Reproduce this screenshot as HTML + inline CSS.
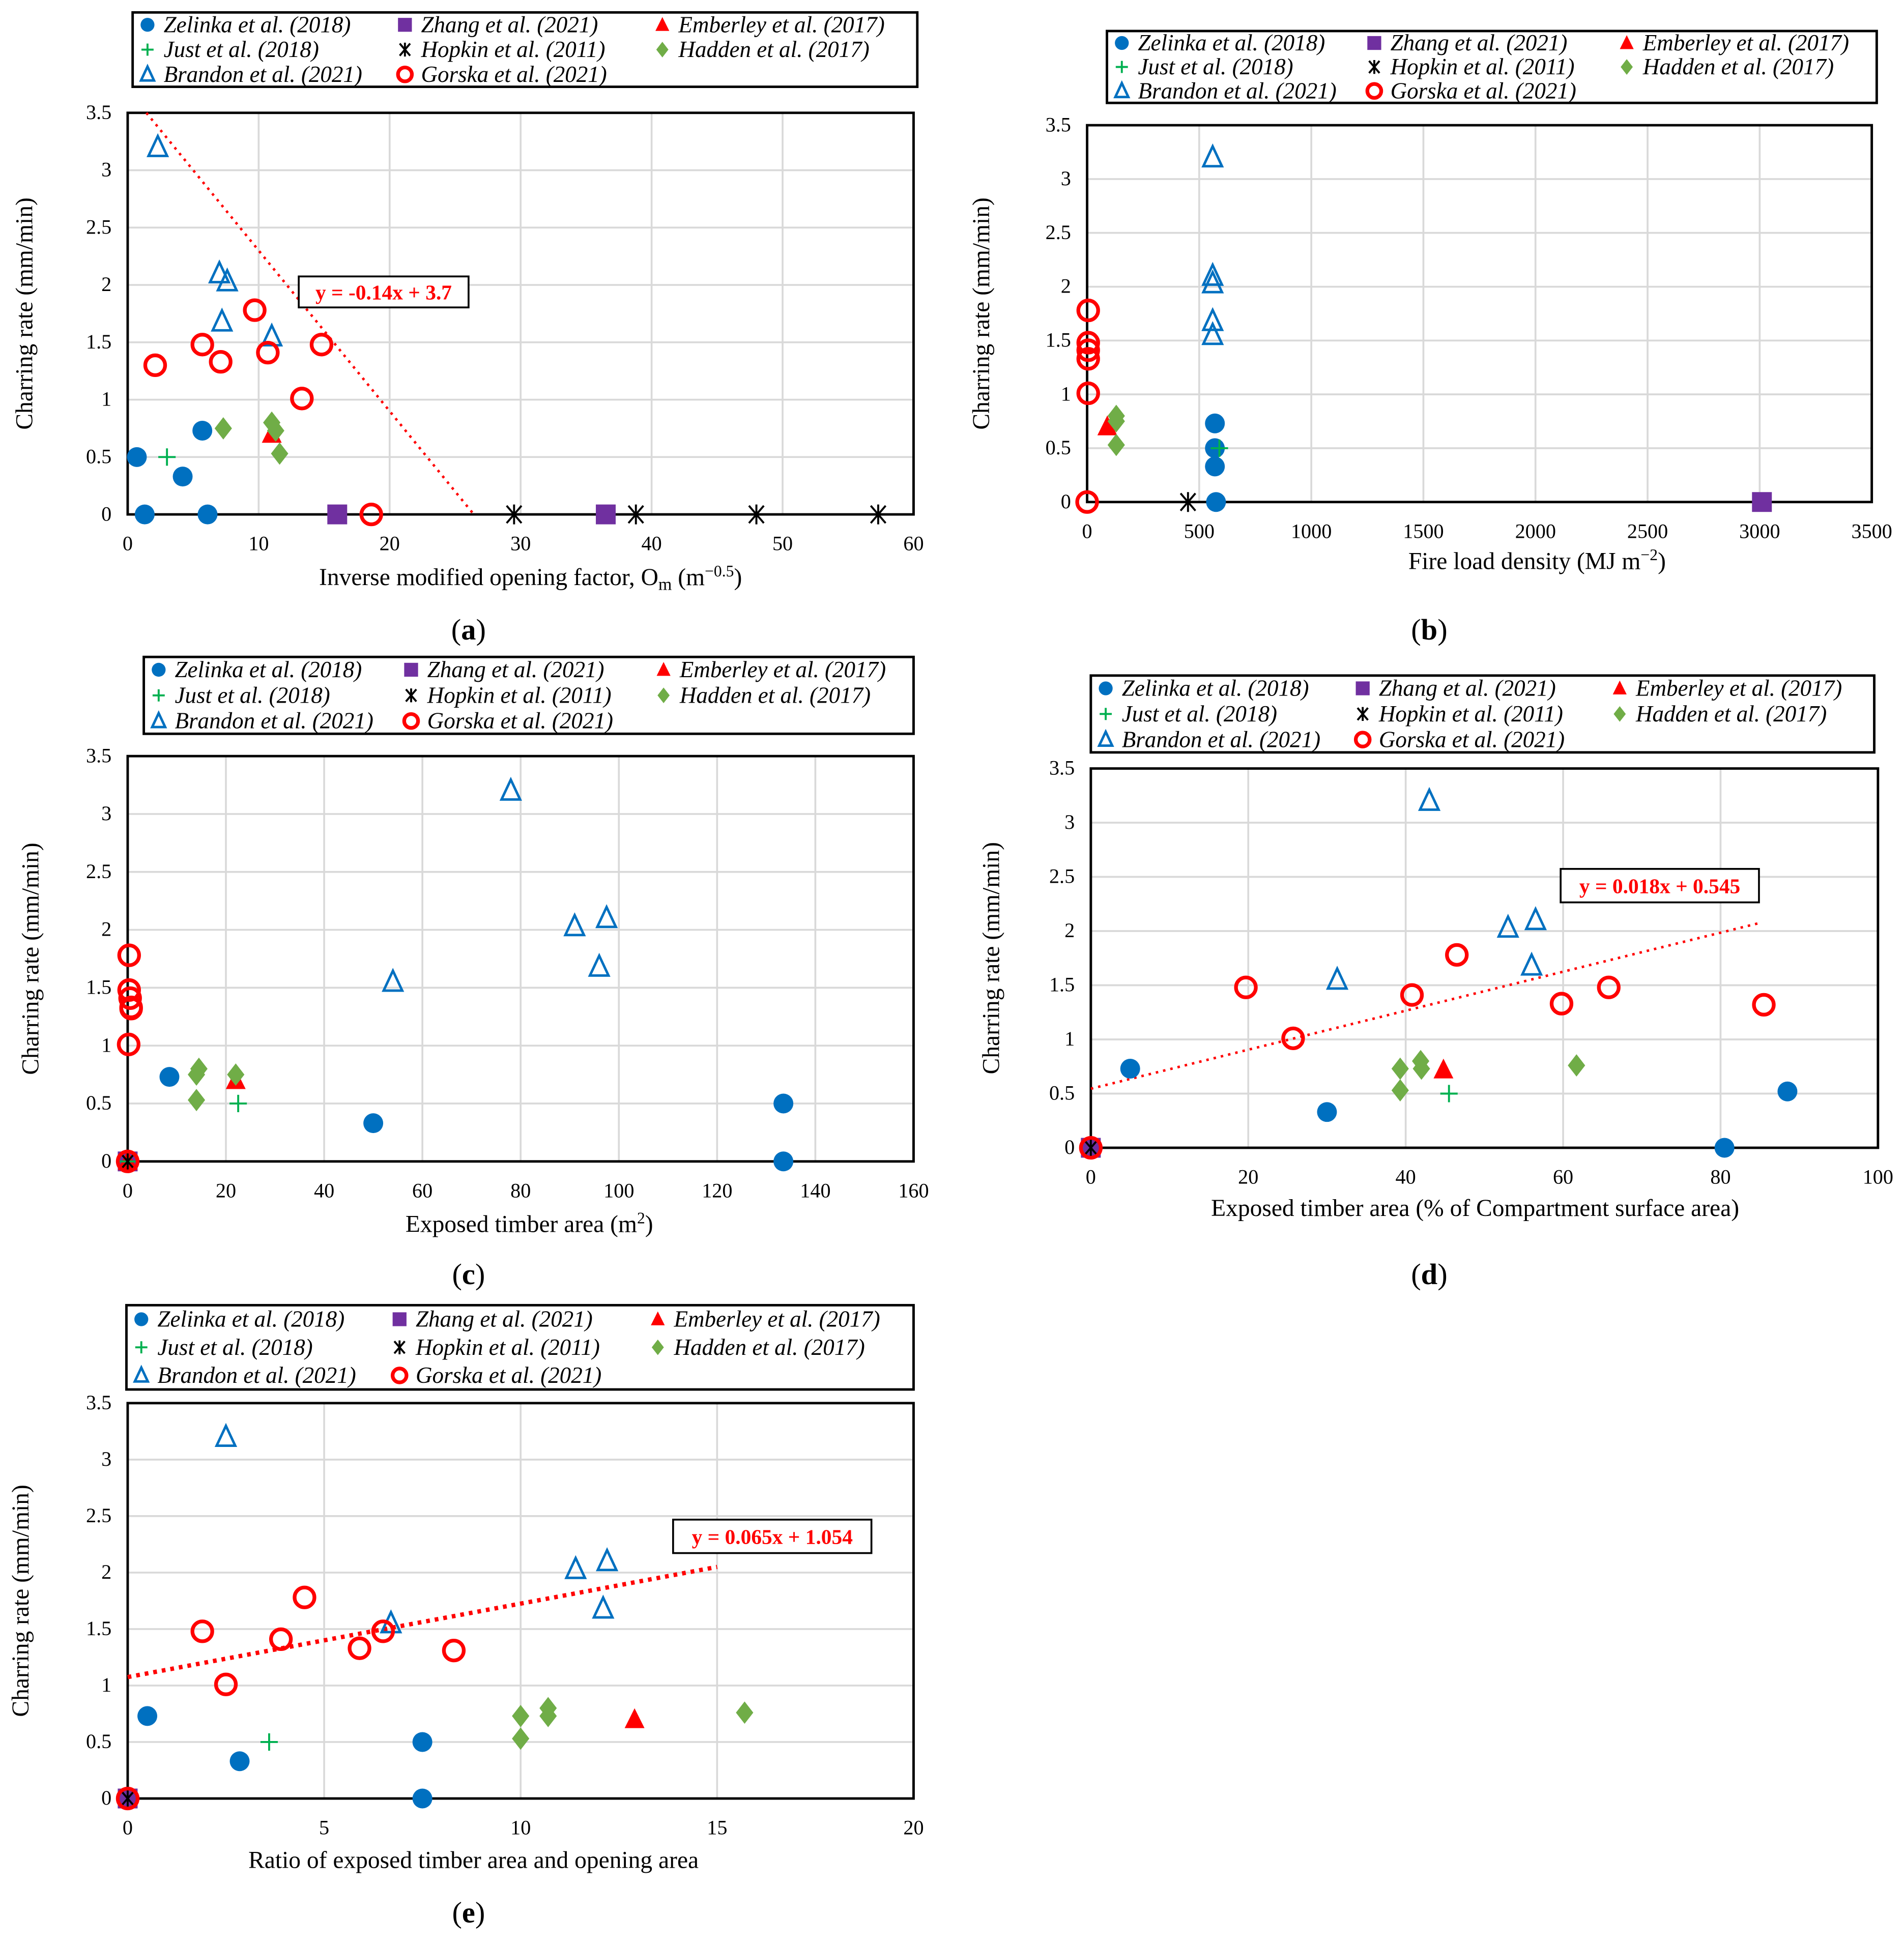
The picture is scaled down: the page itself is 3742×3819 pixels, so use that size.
<!DOCTYPE html>
<html><head><meta charset="utf-8">
<style>
html,body{margin:0;padding:0;background:#fff;}
svg, svg text{font-family:"Liberation Serif","Times New Roman",Times,"DejaVu Serif",serif;}
</style></head>
<body>
<svg id="fig" width="3742" height="3814" viewBox="0 0 1536 1565.5" xmlns="http://www.w3.org/2000/svg"></svg>
<script>
// ---- Data ----
const seriesNames = ["Zelinka et al. (2018)","Zhang et al. (2021)","Emberley et al. (2017)","Just et al. (2018)","Hopkin et al. (2011)","Hadden et al. (2017)","Brandon et al. (2021)","Gorska et al. (2021)"];
const yTicks = [0,0.5,1,1.5,2,2.5,3,3.5];

// panel a
const aX = [0,10,20,30,40,50,60];
const aZelinka = [[0.7,0.5],[1.3,0],[4.2,0.33],[5.7,0.73],[6.1,0]];
const aZhang = [[16,0],[36.5,0]];
const aEmberley = [[11,0.7]];
const aJust = [[3,0.5]];
const aHopkin = [[29.5,0],[38.8,0],[48,0],[57.3,0]];
const aHadden = [[7.3,0.75],[11,0.8],[11.3,0.73],[11.6,0.53]];
const aBrandon = [[2.3,3.2],[7,2.1],[7.6,2.03],[7.2,1.68],[11,1.55]];
const aGorska = [[2.1,1.3],[5.7,1.48],[7.1,1.33],[9.7,1.78],[10.7,1.41],[13.3,1.01],[14.8,1.48],[18.6,0]];
const aTrend = [-0.14,3.7,1.43,26.4];

// panel b
const bX = [0,500,1000,1500,2000,2500,3000,3500];
const bZelinka = [[570,0.73],[570,0.5],[570,0.33],[575,0]];
const bZhang = [[3010,0]];
const bEmberley = [[90,0.7]];
const bJust = [[590,0.5]];
const bHopkin = [[450,0]];
const bHadden = [[130,0.8],[130,0.75],[130,0.53]];
const bBrandon = [[560,3.2],[560,2.1],[560,2.03],[560,1.68],[560,1.55]];
const bGorska = [[5,1.78],[5,1.48],[5,1.41],[5,1.33],[5,1.01],[0,0]];

// panel c
const cX = [0,20,40,60,80,100,120,140,160];
const cZelinka = [[8.5,0.73],[50,0.33],[133.5,0.5],[133.5,0],[0,0]];
const cZhang = [[0,0]];
const cEmberley = [[22,0.7],[0,0]];
const cJust = [[22.5,0.5],[0,0]];
const cHopkin = [[0,0]];
const cHadden = [[14.5,0.8],[14,0.75],[14,0.53],[22,0.75]];
const cBrandon = [[78,3.2],[91,2.03],[97.5,2.1],[96,1.68],[54,1.55]];
const cGorska = [[0.3,1.78],[0.3,1.48],[0.5,1.41],[0.7,1.33],[0.7,1.32],[0.2,1.01],[0,0]];

// panel d
const dX = [0,20,40,60,80,100];
const dZelinka = [[5,0.73],[30,0.33],[80.5,0],[88.5,0.52],[0,0]];
const dZhang = [[0,0]];
const dEmberley = [[44.8,0.72]];
const dJust = [[45.5,0.5]];
const dHopkin = [[0,0]];
const dHadden = [[39.3,0.73],[39.3,0.53],[41.9,0.8],[42,0.73],[61.7,0.76]];
const dBrandon = [[43,3.2],[53,2.03],[56.5,2.1],[56,1.68],[31.3,1.55]];
const dGorska = [[19.7,1.48],[25.7,1.01],[40.8,1.41],[46.5,1.78],[59.8,1.33],[65.8,1.48],[85.5,1.32],[0,0]];
const dTrend = [0.018,0.545,0,85];

// panel e
const eX = [0,5,10,15,20];
const eZelinka = [[0.5,0.73],[2.85,0.33],[7.5,0.5],[7.5,0],[0,0]];
const eZhang = [[0,0]];
const eEmberley = [[12.9,0.7]];
const eJust = [[3.6,0.5]];
const eHopkin = [[0,0]];
const eHadden = [[10,0.73],[10,0.53],[10.7,0.8],[10.7,0.73],[15.7,0.76]];
const eBrandon = [[2.5,3.2],[11.4,2.03],[12.2,2.1],[12.1,1.68],[6.7,1.55]];
const eGorska = [[1.9,1.48],[2.5,1.01],[3.9,1.41],[4.5,1.78],[5.9,1.33],[6.5,1.48],[8.3,1.31],[0,0]];
const eTrend = [0.065,1.075,0,15];

const NS="http://www.w3.org/2000/svg";
const svg=document.getElementById('fig');
const FF="'Liberation Serif', 'Times New Roman', Times, serif";
function mk(tag,attrs,parent,text){const e=document.createElementNS(NS,tag);for(const k in attrs)e.setAttribute(k,attrs[k]);if(tag==='text')e.setAttribute('style','font-family:'+FF);if(text!==undefined)e.textContent=text;(parent||svg).appendChild(e);return e;}

const BLUE="#0070c0",RED="#ff0000",PURPLE="#7030a0",GREEN="#00b050",LGREEN="#70ad47";
function marker(g,type,x,y,s){
  s=s||1;
  if(type===0){mk('circle',{cx:x,cy:y,r:8*s,fill:BLUE},g);}
  else if(type===1){mk('rect',{x:x-8*s,y:y-8*s,width:16*s,height:16*s,fill:PURPLE},g);}
  else if(type===2){mk('polygon',{points:`${x},${y-9*s} ${x+8*s},${y+7*s} ${x-8*s},${y+7*s}`,fill:RED},g);}
  else if(type===3){mk('path',{d:`M${x-7*s},${y}H${x+7*s}M${x},${y-7*s}V${y+7*s}`,stroke:GREEN,'stroke-width':1.6,fill:'none'},g);}
  else if(type===4){mk('path',{d:`M${x-6*s},${y-7*s}L${x+6*s},${y+7*s}M${x+6*s},${y-7*s}L${x-6*s},${y+7*s}M${x},${y-8*s}V${y+8*s}`,stroke:'#000','stroke-width':1.6,fill:'none'},g);}
  else if(type===5){mk('polygon',{points:`${x},${y-9*s} ${x+7*s},${y} ${x},${y+9*s} ${x-7*s},${y}`,fill:LGREEN},g);}
  else if(type===6){mk('polygon',{points:`${x},${y-9*s} ${x+7.5*s},${y+7*s} ${x-7.5*s},${y+7*s}`,fill:'none',stroke:BLUE,'stroke-width':2},g);}
  else if(type===7){mk('circle',{cx:x,cy:y,r:8*s,fill:'none',stroke:RED,'stroke-width':3},g);}
}

function panel(id,cfg){
  const g=mk('g',{});
  
  
  const {x0,x1,y0,y1,xt,xmax,ymax}=cfg;
  const sx=v=>x0+(v/xmax)*(x1-x0);
  const sy=v=>y1-(v/ymax)*(y1-y0);
  const grid=mk('g',{},g);
  
  
  xt.forEach(v=>{mk('line',{x1:sx(v),x2:sx(v),y1:y0,y2:y1,stroke:'#d9d9d9','stroke-width':1.5},grid);});
  yTicks.forEach(v=>{mk('line',{x1:x0,x2:x1,y1:sy(v),y2:sy(v),stroke:'#d9d9d9','stroke-width':1.5},grid);});
  const frame=mk('rect',{x:x0,y:y0,width:x1-x0,height:y1-y0,fill:'none',stroke:'#000','stroke-width':2},g);
  
  
  const xa=mk('g',{'font-size':16.5,fill:'#000','text-anchor':'middle'},g);
  
  
  xt.forEach(v=>mk('text',{x:sx(v),y:y1+29},xa,String(v)));
  const ya=mk('g',{'font-size':16.5,fill:'#000','text-anchor':'end'},g);
  
  
  yTicks.forEach(v=>mk('text',{x:x0-13,y:sy(v)+5},ya,String(v)));
  const xtl=mk('text',{x:cfg.xtx,y:cfg.xty,'font-size':19.5,'text-anchor':'middle'},g);
  xtl.innerHTML=cfg.xtitle;
  
  
  const ytl=mk('text',{x:0,y:0,'font-size':19.5,'text-anchor':'middle',transform:`translate(${cfg.ytx},${(y0+y1)/2}) rotate(-90)`},g,'Charring rate (mm/min)');
  
  
  if(cfg.trend){
    const [m,b,xa0,xa1]=cfg.trend;
    const tl=mk('line',{x1:sx(xa0),y1:sy(m*xa0+b),x2:sx(xa1),y2:sy(m*xa1+b),stroke:RED,'stroke-width':cfg.tw||2,'stroke-dasharray':cfg.tw>2?'3 4':'2 4'},g);
    
    
    const [bx,by,bw,bh]=cfg.tbox;
    const tb=mk('g',{},g);
    
    
    mk('rect',{x:bx,y:by,width:bw,height:bh,fill:'#fff',stroke:'#000','stroke-width':1.5},tb);
    mk('text',{x:bx+bw/2,y:by+bh/2+6,'font-size':17,'font-weight':'bold',fill:RED,'text-anchor':'middle'},tb,cfg.ttext);
  }
  cfg.data.forEach((pts,si)=>{
    const sg=mk('g',{},g);
    
    
    pts.forEach(p=>marker(sg,si,sx(p[0]),sy(p[1])));
  });
  const [lx,ly,lw,lh]=cfg.leg;
  const lg=mk('g',{},g);
  
  
  mk('rect',{x:lx,y:ly,width:lw,height:lh,fill:'#fff',stroke:'#000','stroke-width':2},lg);
  const colW=(lw-10)/3, rowH=lh/3;
  seriesNames.forEach((nm,si)=>{
    const col=si%3,row=Math.floor(si/3);
    const ex=lx+12+col*colW, ey=ly+rowH*(row+0.5);
    const eg=mk('g',{},lg);
    
    
    marker(eg,si,ex,ey,0.7);
    mk('text',{x:ex+13,y:ey+6,'font-size':18.5,'font-style':'italic'},eg,nm);
  });
  const pl=mk('text',{x:cfg.lab[0],y:cfg.lab[1],'font-size':24,'text-anchor':'middle'},g);
  pl.innerHTML='(<tspan font-weight="bold">'+id+'</tspan>)';
  
  
}

panel('a',{x0:103,x1:737,y0:91,y1:415,xt:aX,xmax:60,ymax:3.5,
  data:[aZelinka,aZhang,aEmberley,aJust,aHopkin,aHadden,aBrandon,aGorska],
  leg:[107,10,633,60],xtitle:'Inverse modified opening factor, O<tspan font-size="14" dy="4">m</tspan><tspan dy="-4"> (m</tspan><tspan font-size="13" dy="-7">−0.5</tspan><tspan dy="7">)</tspan>',xtx:428,xty:472,ytx:26,
  trend:aTrend,tbox:[241,223,137,25],ttext:'y = -0.14x + 3.7',lab:[378,516]});
panel('b',{x0:877,x1:1510,y0:101,y1:405,xt:bX,xmax:3500,ymax:3.5,
  data:[bZelinka,bZhang,bEmberley,bJust,bHopkin,bHadden,bBrandon,bGorska],
  leg:[893,25,621,58],xtitle:'Fire load density (MJ m<tspan font-size="13" dy="-7">−2</tspan><tspan dy="7">)</tspan>',xtx:1240,xty:459,ytx:798,lab:[1153,516]});
panel('c',{x0:103,x1:737,y0:610,y1:937,xt:cX,xmax:160,ymax:3.5,
  data:[cZelinka,cZhang,cEmberley,cJust,cHopkin,cHadden,cBrandon,cGorska],
  leg:[116,530,621,62],xtitle:'Exposed timber area (m<tspan font-size="13" dy="-7">2</tspan><tspan dy="7">)</tspan>',xtx:427,xty:994,ytx:31,lab:[378,1036]});
panel('d',{x0:880,x1:1515,y0:620,y1:926,xt:dX,xmax:100,ymax:3.5,
  data:[dZelinka,dZhang,dEmberley,dJust,dHopkin,dHadden,dBrandon,dGorska],
  leg:[880,545,632,62],xtitle:'Exposed timber area (% of Compartment surface area)',xtx:1190,xty:981,ytx:806,
  trend:dTrend,tbox:[1259,701,160,27],ttext:'y = 0.018x + 0.545',lab:[1153,1036]});
panel('e',{x0:103,x1:737,y0:1132,y1:1451,xt:eX,xmax:20,ymax:3.5,
  data:[eZelinka,eZhang,eEmberley,eJust,eHopkin,eHadden,eBrandon,eGorska],
  leg:[102,1053,635,68],xtitle:'Ratio of exposed timber area and opening area',xtx:382,xty:1507,ytx:23,tw:3.5,
  trend:eTrend,tbox:[543,1226,160,27],ttext:'y = 0.065x + 1.054',lab:[378,1551]});
</script>
</body></html>
